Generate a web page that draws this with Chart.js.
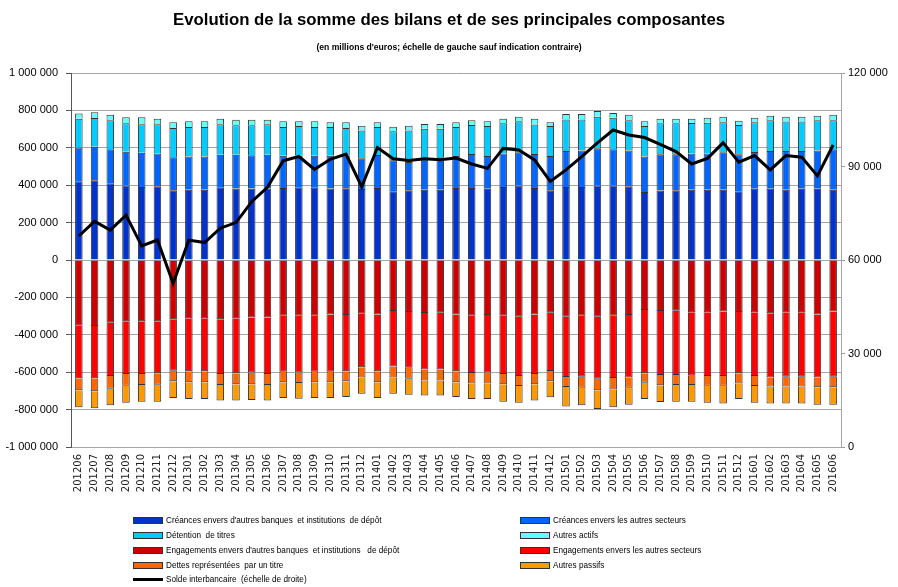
<!DOCTYPE html>
<html>
<head>
<meta charset="utf-8">
<script src="https://cdn.jsdelivr.net/npm/chart.js@4.4.1/dist/chart.umd.min.js"></script>
<style>
  body { margin: 0; background: #fff; }
  #wrap { position: relative; width: 898px; height: 587px; overflow: hidden; }
  #title { position: absolute; left: 0; width: 898px; top: 10px; text-align: center;
    font-family: "Liberation Sans", Arial, sans-serif; font-weight: bold; font-size: 16.8px; color: #000; }
  #subtitle { position: absolute; left: 0; width: 898px; top: 42px; text-align: center;
    font-family: "Liberation Sans", Arial, sans-serif; font-weight: bold; font-size: 8.6px; color: #000; }
  .lg { position: absolute; font-family: "Liberation Sans", Arial, sans-serif; font-size: 8.2px; color: #000;
    white-space: pre; display: flex; align-items: center; height: 12px; }
  .sw { display: inline-block; width: 28px; height: 5px; border: 1px solid #333; margin-right: 3px; }
  .ln { display: inline-block; width: 30px; height: 3px; background: #000; margin-right: 3px; }
</style>
</head>
<body>
<div id="wrap">
  <canvas id="c" width="898" height="587"></canvas>
  <div id="title">Evolution de la somme des bilans et de ses principales composantes</div>
  <div id="subtitle">(en millions d'euros; échelle de gauche sauf indication contraire)</div>
  <div id="legend"></div>
</div>
<script>
const categories = ['201206','201207','201208','201209','201210','201211','201212','201301','201302','201303','201304','201305','201306','201307','201308','201309','201310','201311','201312','201401','201402','201403','201404','201405','201406','201407','201408','201409','201410','201411','201412','201501','201502','201503','201504','201505','201506','201507','201508','201509','201510','201511','201512','201601','201602','201603','201604','201605','201606'];

const creancesBanques = [421000,426000,410000,399000,390000,394000,373000,376000,376000,389000,383000,383000,383000,385000,389000,389000,383000,384000,380000,385000,367000,373000,376000,376000,385000,385000,381000,390000,399000,385000,373000,390000,390000,399000,399000,394000,364000,371000,373000,376000,376000,376000,367000,381000,381000,376000,381000,381000,376000];
const creancesAutres = [180000,180000,182000,180000,184000,175000,176000,178000,178000,174000,180000,177000,180000,173000,169000,169000,175000,173000,164000,176000,166000,151000,162000,173000,171000,182000,175000,180000,177000,182000,183000,193000,195000,198000,193000,192000,190000,194000,192000,194000,194000,200000,198000,197000,202000,207000,202000,205000,216000];
const detentionTitres = [155000,153000,155000,152000,152000,157000,157000,157000,157000,163000,157000,160000,163000,153000,159000,153000,153000,149000,149000,150000,155000,169000,164000,153000,155000,155000,161000,161000,166000,158000,161000,169000,167000,169000,169000,161000,163000,166000,166000,163000,164000,160000,157000,158000,164000,158000,158000,161000,155000];
const autresActifs = [28000,31000,30000,32000,37000,30000,30000,31000,31000,30000,30000,30000,24000,31000,25000,31000,25000,30000,25000,25000,25000,25000,25000,25000,25000,25000,25000,25000,24000,31000,19000,29000,29000,31000,25000,30000,25000,25000,25000,23000,27000,30000,23000,25000,25000,25000,25000,25000,30000];
const engagementsBanques = [-351000,-353000,-335000,-328000,-328000,-328000,-317000,-312000,-312000,-317000,-312000,-307000,-307000,-298000,-298000,-298000,-291000,-294000,-287000,-292000,-273000,-278000,-283000,-282000,-292000,-298000,-294000,-298000,-303000,-292000,-282000,-303000,-298000,-303000,-298000,-294000,-267000,-273000,-271000,-280000,-280000,-276000,-278000,-280000,-285000,-280000,-280000,-291000,-276000];
const engagementsAutres = [-282000,-280000,-285000,-282000,-282000,-278000,-275000,-283000,-283000,-293000,-294000,-294000,-303000,-299000,-303000,-299000,-306000,-301000,-287000,-303000,-297000,-298000,-302000,-303000,-303000,-306000,-307000,-312000,-317000,-318000,-312000,-323000,-326000,-332000,-333000,-335000,-339000,-342000,-344000,-339000,-340000,-344000,-328000,-340000,-344000,-344000,-344000,-338000,-348000];
const dettesTitre = [-64000,-69000,-68000,-62000,-58000,-61000,-57000,-59000,-59000,-58000,-59000,-64000,-58000,-57000,-57000,-57000,-57000,-54000,-55000,-59000,-59000,-59000,-59000,-59000,-59000,-56000,-59000,-55000,-54000,-55000,-55000,-53000,-59000,-62000,-61000,-54000,-50000,-55000,-53000,-49000,-52000,-52000,-54000,-54000,-48000,-53000,-53000,-52000,-57000];
const autresPassifs = [-91000,-91000,-89000,-91000,-90000,-91000,-89000,-89000,-89000,-84000,-87000,-84000,-84000,-84000,-84000,-84000,-84000,-84000,-86000,-84000,-86000,-85000,-80000,-80000,-79000,-83000,-83000,-93000,-89000,-87000,-85000,-104000,-94000,-100000,-96000,-91000,-87000,-89000,-90000,-90000,-91000,-96000,-83000,-89000,-91000,-91000,-91000,-93000,-93000];
const soldeInterbancaire = [67700,72400,69600,74400,64500,66400,52500,66400,65600,70200,72000,78700,83300,91800,93200,89100,92300,94000,83500,96100,92500,91900,92500,92200,92700,90800,89400,95800,95300,92100,85200,88900,93200,97600,101700,100100,99300,97100,94800,90800,92600,97600,91400,93500,88900,93500,93000,87000,96900];

const leftTicks = { min: -1000000, max: 1000000, step: 200000 };
const rightTicks = { min: 0, max: 120000, step: 30000 };

function fmt(v) {
  const s = String(Math.abs(Math.round(v))).replace(/\B(?=(\d{3})+(?!\d))/g, ' ');
  return (v < 0 ? '-' : '') + s;
}

const barSeries = [
  { label: "Créances envers d'autres banques  et institutions  de dépôt", data: creancesBanques, color: '#0033CC' },
  { label: 'Créances envers les autres secteurs', data: creancesAutres, color: '#0066FF' },
  { label: 'Détention  de titres', data: detentionTitres, color: '#00CCFF' },
  { label: 'Autres actifs', data: autresActifs, color: '#66FFFF' },
  { label: "Engagements envers d'autres banques  et institutions   de dépôt", data: engagementsBanques, color: '#CC0000' },
  { label: 'Engagements envers les autres secteurs', data: engagementsAutres, color: '#FF0000' },
  { label: 'Dettes représentées  par un titre', data: dettesTitre, color: '#FF6600' },
  { label: 'Autres passifs', data: autresPassifs, color: '#FF9900' }
];
const lineLabel = 'Solde interbancaire  (échelle de droite)';

const datasets = barSeries.map(s => ({
  type: 'bar', label: s.label, data: s.data, backgroundColor: s.color,
  borderColor: '#333333', borderWidth: 1, yAxisID: 'y', order: 1,
  barPercentage: 0.48, categoryPercentage: 1.0
}));
datasets.push({
  type: 'line', label: lineLabel, data: soldeInterbancaire, yAxisID: 'y1',
  borderColor: '#000000', borderWidth: 3, pointRadius: 0, tension: 0, fill: false, order: 0
});

new Chart(document.getElementById('c'), {
  type: 'bar',
  data: { labels: categories, datasets },
  options: {
    responsive: false, animation: false, devicePixelRatio: 1,
    layout: { padding: { top: 73, bottom: 82, left: 0, right: 0 } },
    plugins: { legend: { display: false }, tooltip: { enabled: false } },
    scales: {
      x: {
        stacked: true,
        grid: { display: false, drawTicks: false },
        border: { display: false },
        ticks: { minRotation: 90, maxRotation: 90, autoSkip: false, padding: 7,
          font: { family: 'DejaVu Sans', size: 10 }, color: '#222' },
        afterFit(s) { s.height = 58; }
      },
      y: {
        stacked: true, position: 'left',
        min: leftTicks.min, max: leftTicks.max,
        ticks: { stepSize: leftTicks.step, callback: v => fmt(v), padding: 8,
          font: { family: 'Liberation Sans', size: 11 }, color: '#000' },
        grid: { color: '#a6a6a6', lineWidth: 1, tickLength: 5, tickColor: '#555' },
        border: { color: '#555', width: 1 },
        afterFit(s) { s.width = 71; }
      },
      y1: {
        position: 'right', stacked: false,
        min: rightTicks.min, max: rightTicks.max,
        ticks: { stepSize: rightTicks.step, callback: v => fmt(v), padding: 3,
          font: { family: 'Liberation Sans', size: 11 }, color: '#000' },
        grid: { drawOnChartArea: false, tickLength: 4, tickColor: '#999' },
        border: { color: '#a6a6a6', width: 1 },
        afterFit(s) { s.width = 57; }
      }
    }
  }
});

// HTML legend built from the series definitions
const legend = document.getElementById('legend');
const rowsY = [514, 529, 544, 559, 573];
barSeries.forEach((s, i) => {
  const col = i % 2, row = Math.floor(i / 2);
  const d = document.createElement('div');
  d.className = 'lg';
  d.style.left = (col === 0 ? 133 : 520) + 'px';
  d.style.top = rowsY[row] + 'px';
  d.innerHTML = '<span class="sw" style="background:' + s.color + '"></span>';
  d.appendChild(document.createTextNode(s.label));
  legend.appendChild(d);
});
const dl = document.createElement('div');
dl.className = 'lg';
dl.style.left = '133px';
dl.style.top = rowsY[4] + 'px';
dl.innerHTML = '<span class="ln"></span>';
dl.appendChild(document.createTextNode(lineLabel));
legend.appendChild(dl);
</script>
</body>
</html>
